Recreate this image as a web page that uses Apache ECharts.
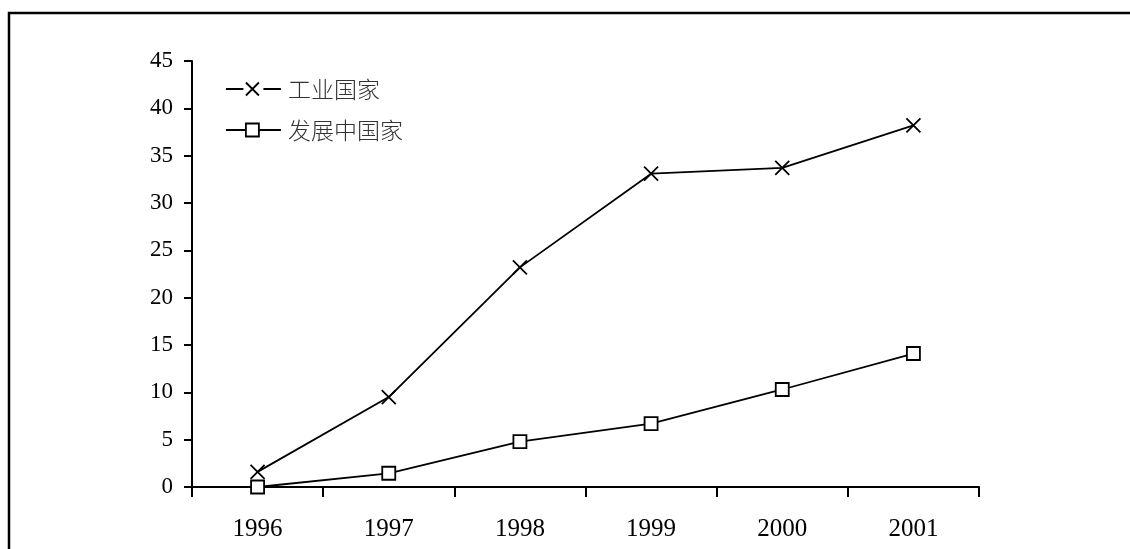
<!DOCTYPE html>
<html>
<head>
<meta charset="utf-8">
<style>
  html, body { margin: 0; padding: 0; background: #fff; }
  #chart { width: 1130px; height: 549px; }
</style>
<script src="https://cdn.jsdelivr.net/npm/echarts@6/dist/echarts.min.js"></script>
</head>
<body>
<div id="chart"></div>
<script>
// Years on the category axis
const years = ['1996', '1997', '1998', '1999', '2000', '2001'];
// Series values
const industrialized = [1.6, 9.5, 23.2, 33.1, 33.7, 38.2];
const developing = [0, 1.45, 4.8, 6.7, 10.3, 14.1];
const seriesNames = ['工业国家', '发展中国家'];

const serif = '"Liberation Serif", "Times New Roman", serif';
const cjk = '"Noto Sans CJK SC", sans-serif';
const crossPath = 'path://M0,0L10,10M10,0L0,10';
// Legend keys: dash – marker – dash, laid out in a 55×13 box
const crossKey = 'path://M0,6.5L17.5,6.5M20,0L33,13M33,0L20,13M37.5,6.5L55,6.5';
const squareKey = 'path://M0,6.5L20,6.5M20,0L33,0L33,13L20,13ZM33,6.5L55,6.5';

const chart = echarts.init(document.getElementById('chart'), null, { renderer: 'canvas' });

chart.setOption({
  backgroundColor: '#fff',
  animation: false,
  graphic: [{
    type: 'rect',
    shape: { x: 9, y: 13, width: 1400, height: 800 },
    style: { fill: 'none', stroke: '#000', lineWidth: 2.5 },
    silent: true,
    z: 100
  }],
  grid: { left: 192, right: 151, top: 61, bottom: 62, containLabel: false },
  legend: {
    orient: 'vertical',
    left: 225,
    top: 77,
    padding: 0,
    itemWidth: 55,
    itemHeight: 13,
    itemGap: 17,
    itemStyle: { borderWidth: 1.8, borderColor: '#000' },
    textStyle: { fontFamily: cjk, fontSize: 23, fontWeight: 300, color: '#333', lineHeight: 24, padding: [0, 0, 0, 2] },
    data: [
      { name: seriesNames[0], icon: crossKey },
      { name: seriesNames[1], icon: squareKey }
    ]
  },
  xAxis: {
    type: 'category',
    data: years,
    boundaryGap: true,
    axisLine: { lineStyle: { color: '#000', width: 2 } },
    axisTick: { show: true, inside: false, length: 10, lineStyle: { color: '#000', width: 2 } },
    axisLabel: { fontFamily: serif, fontSize: 25, color: '#000', margin: 30 },
    splitLine: { show: false }
  },
  yAxis: {
    type: 'value',
    min: 0,
    max: 45,
    interval: 5,
    axisLine: { show: true, lineStyle: { color: '#000', width: 2 } },
    axisTick: { show: true, inside: false, length: 8, lineStyle: { color: '#000', width: 2 } },
    axisLabel: { fontFamily: serif, fontSize: 23, color: '#000', margin: 19 },
    splitLine: { show: false }
  },
  series: [
    {
      name: seriesNames[0],
      type: 'line',
      data: industrialized,
      symbol: crossPath,
      symbolSize: 14,
      lineStyle: { color: '#000', width: 1.8 },
      itemStyle: { color: 'rgba(0,0,0,0)', borderColor: '#000', borderWidth: 1.8 },
      z: 3
    },
    {
      name: seriesNames[1],
      type: 'line',
      data: developing,
      symbol: 'rect',
      symbolSize: 13,
      lineStyle: { color: '#000', width: 1.8 },
      itemStyle: { color: '#fff', borderColor: '#000', borderWidth: 1.8 },
      z: 4
    }
  ]
});
</script>
</body>
</html>
